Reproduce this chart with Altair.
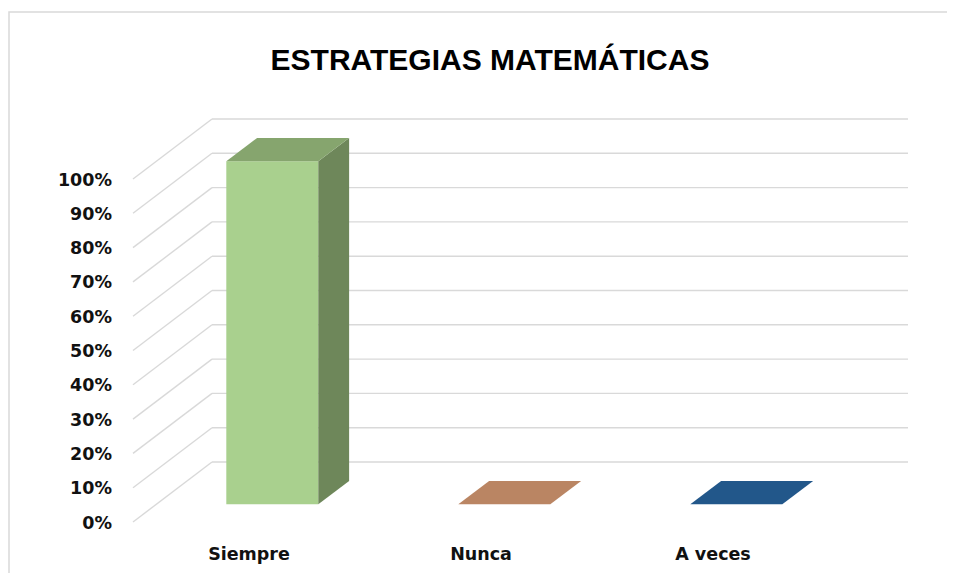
import altair as alt
import pandas as pd

# ---------------- data ----------------
categories = ["Siempre", "Nunca", "A veces"]
values = [1.0, 0.0, 0.0]
tick_values = [0.0, 0.1, 0.2, 0.3, 0.4, 0.5, 0.6, 0.7, 0.8, 0.9, 1.0]
title_text = "ESTRATEGIAS MATEMÁTICAS"

# ---------------- style ----------------
front_colors = ["#A9D08E", "#C8926C", "#2A64A0"]
top_colors = ["#86A56E", "#BA8563", "#22578A"]
side_colors = ["#6E875A", "#9A6B4C", "#1B4670"]
grid_color = "#D9D9D9"
label_color = "#111111"
label_font = "DejaVu Sans"
label_size = 17.5

W, H = 696, 343                # plot area (front plane) in px
PX_X = W / len(categories)     # px per category unit
PX_Y = H                       # px per value unit (0..1)
DX = 79 / PX_X                 # depth of the floor, x part (data units)
DY = 60 / PX_Y                 # depth of the floor, y part (data units)
F0, F1 = 0.295, 0.685          # bar front / back depth fraction
HALF = 46 / PX_X               # half bar width (data units)

# ---------------- tables built from the lists ----------------
grid_rows = []
for t in tick_values:
    grid_rows.append({"x": 0.0, "x2": DX, "y": t, "y2": t + DY})              # side-wall diagonal
    grid_rows.append({"x": DX, "x2": len(categories) + DX, "y": t + DY, "y2": t + DY})  # back wall
grid_df = pd.DataFrame(grid_rows)

front_rows, top_rows, side_rows, cat_rows = [], [], [], []
for i, (c, v) in enumerate(zip(categories, values)):
    cx = i + 0.5
    cat_rows.append({"cat": c, "x": cx})
    front_rows.append({"cat": c, "x": cx - HALF + F0 * DX, "x2": cx + HALF + F0 * DX,
                       "y": F0 * DY, "y2": v + F0 * DY})
    for f in (F0, F1):
        top_rows.append({"cat": c, "y": v + f * DY,
                         "xa": cx - HALF + f * DX, "xb": cx + HALF + f * DX})
        side_rows.append({"cat": c, "x": cx + HALF + f * DX,
                          "ya": f * DY, "yb": v + f * DY})
front_df = pd.DataFrame(front_rows)
top_df = pd.DataFrame(top_rows)
side_df = pd.DataFrame(side_rows)
cat_df = pd.DataFrame(cat_rows)
tick_df = pd.DataFrame({"t": tick_values})

xs = alt.Scale(domain=[0, len(categories)], nice=False, zero=False)
ys = alt.Scale(domain=[0, 1], nice=False, zero=False)

grid = alt.Chart(grid_df).mark_rule(color=grid_color, strokeWidth=1.4).encode(
    x=alt.X("x:Q", scale=xs, axis=None), x2="x2:Q",
    y=alt.Y("y:Q", scale=ys, axis=None), y2="y2:Q",
)

front = alt.Chart(front_df).mark_rect().encode(
    x=alt.X("x:Q", scale=xs, axis=None), x2="x2:Q",
    y=alt.Y("y:Q", scale=ys, axis=None), y2="y2:Q",
    color=alt.Color("cat:N", scale=alt.Scale(domain=categories, range=front_colors), legend=None),
)

top = alt.Chart(top_df).mark_area(orient="horizontal").encode(
    y=alt.Y("y:Q", scale=ys, axis=None),
    x=alt.X("xa:Q", scale=xs, axis=None), x2="xb:Q",
    color=alt.Color("cat:N", scale=alt.Scale(domain=categories, range=top_colors), legend=None),
)

side = alt.Chart(side_df).mark_area(orient="vertical").encode(
    x=alt.X("x:Q", scale=xs, axis=None),
    y=alt.Y("ya:Q", scale=ys, axis=None), y2="yb:Q",
    color=alt.Color("cat:N", scale=alt.Scale(domain=categories, range=side_colors), legend=None),
)

# y axis labels (front plane), through the y scale
ylabels = alt.Chart(tick_df).mark_text(
    font=label_font, fontSize=label_size, fontWeight="bold", color=label_color,
    align="right", baseline="middle", dy=1.5
).encode(
    y=alt.Y("t:Q", scale=ys, axis=None),
    x=alt.value(-21),
    text=alt.Text("t:Q", format=".0%"),
)

# category labels, through the x scale
xlabels = alt.Chart(cat_df).mark_text(
    font=label_font, fontSize=label_size, fontWeight="bold", color=label_color,
    align="center", baseline="middle"
).encode(
    x=alt.X("x:Q", scale=xs, axis=None),
    y=alt.value(H + 33),
    text="cat:N",
)

one = alt.Data(values=[{}])
border = alt.Chart(one).mark_rect(filled=False, stroke=grid_color, strokeWidth=1.5).encode(
    x=alt.value(-124), x2=alt.value(W + 140), y=alt.value(-167), y2=alt.value(H + 80)
)
title = alt.Chart(one).mark_text(
    text=title_text, font="Liberation Sans", fontSize=30, fontWeight="bold",
    align="center", baseline="alphabetic", color="#000000"
).encode(x=alt.value(357), y=alt.value(-109))

chart = alt.layer(border, title, grid, front, side, top, ylabels, xlabels).resolve_scale(
    color="independent"
).properties(
    width=W, height=H,
    autosize=alt.AutoSizeParams(type="none"),
    padding={"left": 125, "top": 171, "right": 118, "bottom": 51},
).configure_view(stroke=None)

chart.save("out.html", embed_options={"renderer": "svg", "actions": False})
